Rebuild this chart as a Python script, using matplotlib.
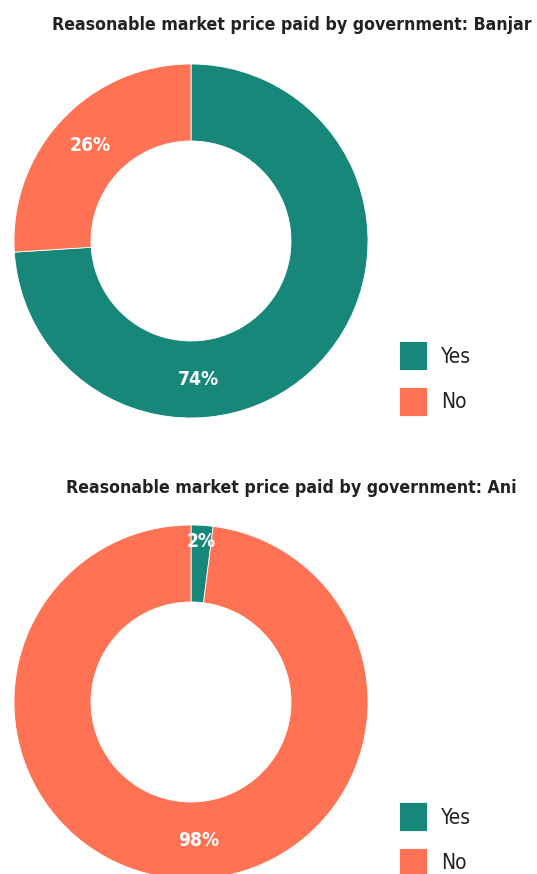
import matplotlib
matplotlib.use("Agg")
import matplotlib.pyplot as plt
import numpy as np

categories = ["Yes", "No"]
banjar_values = [74, 26]
ani_values = [2, 98]
titles = ["Reasonable market price paid by government: Banjar",
          "Reasonable market price paid by government: Ani"]

colors = ["#17877a", "#ff7254"]
W, H = 537, 874
FAMILY = ["DejaVu Sans"]
STRETCH = "condensed"

fig = plt.figure(figsize=(W / 100, H / 100), dpi=100)


def px_axes(cx, cy, r):
    return fig.add_axes([(cx - r) / W, 1 - (cy + r) / H, 2 * r / W, 2 * r / H])


def donut(values, title, cy, title_y, legend_y):
    R = 177
    ax = px_axes(191, cy, R)
    wedges, _ = ax.pie(values, colors=colors, startangle=90, counterclock=False,
                       radius=1.0, wedgeprops=dict(width=0.435, edgecolor="white", linewidth=0.6))
    ax.set_xlim(-1, 1)
    ax.set_ylim(-1, 1)
    ax.set_aspect("auto")
    total = sum(values)
    start = 90.0
    for w, v in zip(wedges, values):
        span = 360.0 * v / total
        mid = start - span / 2
        start -= span
        rr = 0.785
        if span > 180:
            ang = -87.0
        elif span < 15:
            ang = mid
            rr = 0.91
        else:
            ang = mid
        x, y = rr * np.cos(np.radians(ang)), rr * np.sin(np.radians(ang))
        ax.text(x, y, f"{v}%", color="white", fontsize=13.8, ha="center", va="center",
                family=FAMILY, fontstretch=STRETCH, fontweight="bold")
    fig.text(291.5 / W, 1 - title_y / H, title, ha="center", va="center",
             fontsize=12.7, fontweight="bold", family=FAMILY, fontstretch=STRETCH,
             color="#222222")
    leg = ax.legend(wedges, categories, loc="upper left",
                    bbox_to_anchor=(389 / W, 1 - legend_y / H), bbox_transform=fig.transFigure,
                    frameon=False, handlelength=1.3, handleheight=1.75,
                    handletextpad=0.7, labelspacing=0.8, borderpad=0,
                    prop=dict(family=FAMILY, size=15, stretch=STRETCH))
    for t in leg.get_texts():
        t.set_color("#222222")
    return ax


donut(banjar_values, titles[0], 241, 25, 331)
donut(ani_values, titles[1], 702, 488, 792)

fig.savefig("out.png", dpi=100)
